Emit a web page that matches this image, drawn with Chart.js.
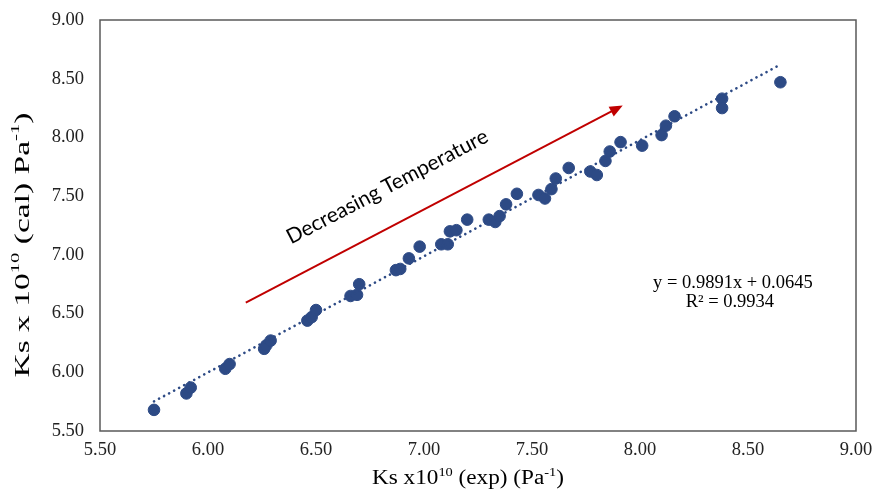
<!DOCTYPE html>
<html>
<head>
<meta charset="utf-8">
<script src="https://cdn.jsdelivr.net/npm/chart.js@4.4.0/dist/chart.umd.min.js"></script>
<style>
  html, body { margin: 0; padding: 0; background: #fff; }
  #wrap { width: 875px; height: 495px; }
</style>
</head>
<body>
<div id="wrap"><canvas id="ksChart"></canvas></div>
<script>
// measured vs calculated Ks (x 1e10, Pa^-1)
const expKs = [5.75, 5.90, 5.92, 6.08, 6.10, 6.26, 6.27, 6.29, 6.46, 6.48, 6.50,
  6.66, 6.69, 6.70, 6.87, 6.89, 6.93, 6.98, 7.08, 7.11, 7.12, 7.15, 7.20,
  7.30, 7.33, 7.35, 7.38, 7.43, 7.53, 7.56, 7.59, 7.61, 7.67, 7.77, 7.80,
  7.84, 7.86, 7.91, 8.01, 8.10, 8.12, 8.16, 8.38, 8.38, 8.65];
const calKs = [5.68, 5.82, 5.87, 6.03, 6.07, 6.20, 6.23, 6.27, 6.44, 6.47, 6.53,
  6.65, 6.66, 6.75, 6.87, 6.88, 6.97, 7.07, 7.09, 7.09, 7.20, 7.21, 7.30,
  7.30, 7.28, 7.33, 7.43, 7.52, 7.51, 7.48, 7.56, 7.65, 7.74, 7.71, 7.68,
  7.80, 7.88, 7.96, 7.93, 8.02, 8.10, 8.18, 8.33, 8.25, 8.47];

const axisMin = 5.5;
const axisMax = 9.0;
const axisStep = 0.5;

// linear trendline as printed on the chart
const fitSlope = 0.9891;
const fitIntercept = 0.0645;
const fitR2 = 0.9934;

const xLo = Math.min(...expKs), xHi = Math.max(...expKs);
const trendPts = [
  { x: xLo, y: fitSlope * xLo + fitIntercept },
  { x: xHi, y: fitSlope * xHi + fitIntercept }
];

const serif = '"Liberation Serif", "Times New Roman", serif';

// text with superscript pieces, centred on (0,0); optional length stretches it
function drawRich(ctx, parts, size, length) {
  let total = 0;
  parts.forEach(p => {
    ctx.font = (p.sup ? size * 0.62 : size) + 'px ' + serif;
    p.w = ctx.measureText(p.t).width;
    total += p.w;
  });
  if (length) ctx.scale(length / total, 1);
  let x = -total / 2;
  parts.forEach(p => {
    ctx.font = (p.sup ? size * 0.62 : size) + 'px ' + serif;
    ctx.fillText(p.t, x, p.sup ? -size * 0.33 : 0);
    x += p.w;
  });
}

const decor = {
  id: 'decor',
  beforeDatasetsDraw(chart) {
    const { ctx, chartArea: a } = chart;
    ctx.save();
    ctx.strokeStyle = '#595959';
    ctx.lineWidth = 1.5;
    ctx.strokeRect(a.left, a.top, a.right - a.left, a.bottom - a.top);
    ctx.restore();
  },
  afterDraw(chart) {
    const { ctx } = chart;
    const sx = chart.scales.x, sy = chart.scales.y;

    // red arrow
    const x1 = sx.getPixelForValue(6.175), y1 = sy.getPixelForValue(6.593);
    const x2 = sx.getPixelForValue(7.92), y2 = sy.getPixelForValue(8.271);
    const ang = Math.atan2(y2 - y1, x2 - x1);
    ctx.save();
    ctx.strokeStyle = '#C00000';
    ctx.fillStyle = '#C00000';
    ctx.lineWidth = 2;
    ctx.beginPath();
    ctx.moveTo(x1, y1);
    ctx.lineTo(x2 - 10 * Math.cos(ang), y2 - 10 * Math.sin(ang));
    ctx.stroke();
    ctx.translate(x2, y2);
    ctx.rotate(ang);
    ctx.beginPath();
    ctx.moveTo(0, 0);
    ctx.lineTo(-13, -5.5);
    ctx.lineTo(-13, 5.5);
    ctx.closePath();
    ctx.fill();
    ctx.restore();

    // label along the arrow
    ctx.save();
    ctx.translate(sx.getPixelForValue(6.83), sy.getPixelForValue(7.58));
    ctx.rotate(-27.5 * Math.PI / 180);
    ctx.fillStyle = '#000';
    ctx.font = '21px Lato, "Open Sans", sans-serif';
    ctx.textAlign = 'center';
    ctx.textBaseline = 'middle';
    ctx.fillText('Decreasing Temperature', 0, 0);
    ctx.restore();

    // trendline equation
    ctx.save();
    ctx.fillStyle = '#000';
    ctx.font = '18.5px ' + serif;
    ctx.textAlign = 'center';
    ctx.textBaseline = 'middle';
    const ex = sx.getPixelForValue(8.43);
    ctx.fillText('y = ' + fitSlope + 'x + ' + fitIntercept, ex, sy.getPixelForValue(6.76));
    ctx.fillText('R² = ' + fitR2, ex - 3, sy.getPixelForValue(6.595));
    ctx.restore();

    // axis titles
    ctx.save();
    ctx.fillStyle = '#000';
    ctx.textAlign = 'left';
    ctx.textBaseline = 'middle';
    ctx.translate(468, 479);
    drawRich(ctx, [{ t: 'Ks x10' }, { t: '10', sup: true }, { t: ' (exp) (Pa' }, { t: '-1', sup: true }, { t: ')' }], 20, 192);
    ctx.restore();

    ctx.save();
    ctx.fillStyle = '#000';
    ctx.textAlign = 'left';
    ctx.textBaseline = 'middle';
    ctx.translate(23, 245);
    ctx.rotate(-Math.PI / 2);
    drawRich(ctx, [{ t: 'Ks x 10' }, { t: '10', sup: true }, { t: ' (cal) Pa' }, { t: '-1', sup: true }, { t: ')' }], 21, 265);
    ctx.restore();
  }
};

const tickFont = { family: serif, size: 18.5 };

new Chart(document.getElementById('ksChart'), {
  type: 'scatter',
  data: {
    datasets: [
      {
        label: 'Ks',
        data: expKs.map((v, i) => ({ x: v, y: calKs[i] })),
        backgroundColor: '#2D4A85',
        borderColor: '#2D4A85',
        pointRadius: 5.8,
        pointHoverRadius: 5.8,
        order: 2
      },
      {
        label: 'Linear fit',
        data: trendPts,
        showLine: true,
        borderColor: '#2D4A85',
        borderWidth: 2.6,
        borderDash: [0.1, 5.6],
        borderCapStyle: 'round',
        pointRadius: 0,
        fill: false,
        order: 1
      }
    ]
  },
  options: {
    responsive: true,
    maintainAspectRatio: false,
    animation: false,
    layout: { padding: { top: 20, right: 19, left: 0, bottom: 0 } },
    plugins: {
      legend: { display: false },
      tooltip: { enabled: false }
    },
    scales: {
      x: {
        type: 'linear',
        min: axisMin,
        max: axisMax,
        grid: { display: false, drawTicks: false },
        border: { display: false },
        ticks: {
          stepSize: axisStep,
          padding: 8,
          color: '#222',
          font: tickFont,
          maxRotation: 0,
          callback: v => v.toFixed(2)
        },
        afterFit: s => { s.height = 64; s.paddingLeft = 0; s.paddingRight = 0; }
      },
      y: {
        type: 'linear',
        min: axisMin,
        max: axisMax,
        grid: { display: false, drawTicks: false },
        border: { display: false },
        ticks: {
          stepSize: axisStep,
          padding: 16,
          color: '#222',
          font: tickFont,
          callback: v => v.toFixed(2)
        },
        afterFit: s => { s.width = 100; s.paddingTop = 0; s.paddingBottom = 0; }
      }
    }
  },
  plugins: [decor]
});
</script>
</body>
</html>
